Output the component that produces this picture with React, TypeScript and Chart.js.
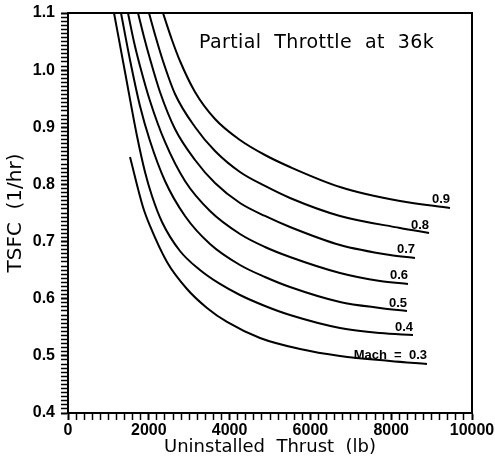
import React, { useEffect, useRef } from "react";
import { Chart, registerables } from "chart.js";

Chart.register(...registerables);

// ---- data ----
const machLabels = ["Mach  =  0.3", "0.4", "0.5", "0.6", "0.7", "0.8", "0.9"];

const thrustM03 = [1535, 1856, 2030, 2450, 2946, 3441, 3936, 4752, 5743, 6733, 7970, 8886];
const tsfcM03 = [0.848, 0.7605, 0.7273, 0.6643, 0.617, 0.5838, 0.5593, 0.5313, 0.512, 0.4998, 0.491, 0.4858];

const thrustM04 = [1139, 1411, 1708, 1906, 2079, 2327, 2772, 3267, 3762, 4257, 4876, 5495, 6733, 7723, 8540];
const tsfcM04 = [1.1, 0.9968, 0.8848, 0.8218, 0.7798, 0.7343, 0.6835, 0.6503, 0.6258, 0.6065, 0.5873, 0.5715, 0.5488, 0.54, 0.5365];

const thrustM05 = [1312, 1535, 1782, 2030, 2401, 2896, 3515, 4257, 4876, 5495, 6733, 7723, 8391];
const tsfcM05 = [1.1, 1.0178, 0.9373, 0.876, 0.806, 0.7448, 0.6958, 0.659, 0.638, 0.6205, 0.5943, 0.5838, 0.5785];

const thrustM06 = [1485, 1634, 1782, 2030, 2401, 2896, 3515, 4257, 4876, 5495, 6733, 7723, 8416];
const tsfcM06 = [1.1, 1.0493, 1.0073, 0.946, 0.8743, 0.806, 0.7535, 0.7133, 0.6905, 0.673, 0.645, 0.631, 0.6258];

const thrustM07 = [1733, 1881, 2030, 2277, 2649, 3144, 3639, 4257, 4876, 5495, 6733, 7970, 8589];
const tsfcM07 = [1.1, 1.058, 1.0195, 0.9618, 0.897, 0.8428, 0.8025, 0.7675, 0.7448, 0.7255, 0.694, 0.6765, 0.6713];

const thrustM08 = [2005, 2178, 2351, 2649, 3144, 3639, 4257, 4876, 5495, 6733, 8218, 8936];
const tsfcM08 = [1.1, 1.0563, 1.016, 0.9583, 0.9005, 0.8585, 0.8218, 0.7973, 0.7763, 0.7448, 0.7238, 0.715];

const thrustM09 = [2351, 2574, 2772, 3144, 3639, 4257, 4876, 5495, 6733, 8218, 9455];
const tsfcM09 = [1.1, 1.0528, 1.016, 0.9618, 0.9145, 0.8778, 0.8515, 0.8305, 0.7955, 0.771, 0.7588];

const seriesX = [thrustM03, thrustM04, thrustM05, thrustM06, thrustM07, thrustM08, thrustM09];
const seriesY = [tsfcM03, tsfcM04, tsfcM05, tsfcM06, tsfcM07, tsfcM08, tsfcM09];

const xMajorTicks = [0, 2000, 4000, 6000, 8000, 10000];
const xMinorPerMajor = 10;
const yMajorTicks = [0.4, 0.5, 0.6, 0.7, 0.8, 0.9, 1.0, 1.1];
const yMinorPerMajor = 14;

const plotTitle = "Partial  Throttle  at  36k";
const xTitle = "Uninstalled  Thrust  (lb)";
const yTitle = "TSFC  (1/hr)";

function withMinors(majors: number[], per: number): number[] {
  const out: number[] = [];
  for (let i = 0; i < majors.length - 1; i++) {
    const a = majors[i];
    const b = majors[i + 1];
    for (let k = 0; k < per; k++) out.push(a + ((b - a) * k) / per);
  }
  out.push(majors[majors.length - 1]);
  return out;
}

function isMajor(v: number, majors: number[]): boolean {
  return majors.some((m) => Math.abs(m - v) < 1e-7 * Math.max(1, Math.abs(m)));
}

const overlayPlugin = {
  id: "overlay",
  afterDatasetsDraw(chart: any) {
    const { ctx, chartArea: a } = chart;
    ctx.save();
    // frame (top and right)
    ctx.strokeStyle = "#000";
    ctx.lineWidth = 2;
    ctx.beginPath();
    ctx.moveTo(a.left, a.top);
    ctx.lineTo(a.right, a.top);
    ctx.lineTo(a.right, a.bottom);
    ctx.stroke();

    // title inside plot
    ctx.fillStyle = "#000";
    ctx.font = '19px "DejaVu Sans"';
    try {
      (ctx as any).letterSpacing = "0.4px";
    } catch (e) {}
    ctx.textAlign = "left";
    ctx.textBaseline = "alphabetic";
    ctx.fillText(plotTitle, a.left + (a.right - a.left) * 0.324, a.top + 35);
    try {
      (ctx as any).letterSpacing = "0px";
    } catch (e) {}

    // curve labels at line ends
    ctx.font = 'bold 13px "Liberation Sans"';
    ctx.textAlign = "right";
    ctx.textBaseline = "alphabetic";
    chart.data.datasets.forEach((ds: any, i: number) => {
      const meta = chart.getDatasetMeta(i);
      const pts = meta.data;
      const last = pts[pts.length - 1];
      if (!last) return;
      ctx.fillText(ds.label, last.x, last.y - 4.5);
    });
    ctx.restore();
  },
};

export default function App() {
  const ref = useRef<HTMLCanvasElement | null>(null);

  useEffect(() => {
    document.body.style.margin = "0";
    const canvas = ref.current;
    if (!canvas) return;

    const datasets = seriesX.map((xs, i) => ({
      label: machLabels[i],
      data: xs.map((x, j) => ({ x, y: seriesY[i][j] })),
      borderColor: "#000",
      borderWidth: 2,
      pointRadius: 0,
      fill: false,
      cubicInterpolationMode: "monotone" as const,
    }));

    const xTickValues = withMinors(xMajorTicks, xMinorPerMajor);
    const yTickValues = withMinors(yMajorTicks, yMinorPerMajor);

    const chart = new Chart(canvas, {
      type: "line",
      data: { datasets },
      options: {
        responsive: false,
        animation: false,
        layout: { padding: { top: 13, right: 23, bottom: 0, left: 0 } },
        plugins: {
          legend: { display: false },
          tooltip: { enabled: false },
          title: { display: false },
        },
        scales: {
          x: {
            type: "linear",
            min: 0,
            max: 10000,
            afterBuildTicks: (scale: any) => {
              scale.ticks = xTickValues.map((v) => ({ value: v }));
            },
            afterFit: (scale: any) => {
              scale.height = 47;
              scale.paddingLeft = 0;
              scale.paddingRight = 0;
            },
            ticks: {
              autoSkip: false,
              maxRotation: 0,
              minRotation: 0,
              padding: 1,
              color: "#000",
              font: { family: "Liberation Sans", size: 16, weight: "bold" },
              callback: (v: any) => (isMajor(Number(v), xMajorTicks) ? String(Math.round(Number(v))) : ""),
            },
            grid: {
              drawOnChartArea: false,
              drawTicks: true,
              tickLength: 7,
              tickColor: "#000",
              tickWidth: (c: any) => (isMajor(c.tick?.value, xMajorTicks) ? 2 : 1.5),
            },
            border: { display: true, color: "#000", width: 2 },
            title: {
              display: true,
              text: xTitle,
              color: "#000",
              font: { family: "DejaVu Sans", size: 18 },
              padding: { top: 0, bottom: 2 },
            },
          },
          y: {
            type: "linear",
            min: 0.4,
            max: 1.1,
            afterBuildTicks: (scale: any) => {
              scale.ticks = yTickValues.map((v) => ({ value: v }));
            },
            afterFit: (scale: any) => {
              scale.width = 68;
              scale.paddingTop = 0;
              scale.paddingBottom = 0;
            },
            ticks: {
              autoSkip: false,
              padding: 6,
              color: "#000",
              font: { family: "Liberation Sans", size: 16, weight: "bold" },
              callback: (v: any) => (isMajor(Number(v), yMajorTicks) ? Number(v).toFixed(1) : ""),
            },
            grid: {
              drawOnChartArea: false,
              drawTicks: true,
              tickLength: 7,
              tickColor: "#000",
              tickWidth: (c: any) => (isMajor(c.tick?.value, yMajorTicks) ? 2 : 1.5),
            },
            border: { display: true, color: "#000", width: 2 },
            title: {
              display: true,
              text: yTitle,
              color: "#000",
              font: { family: "DejaVu Sans", size: 20 },
              padding: { top: 4, bottom: 0 },
            },
          },
        },
      },
      plugins: [overlayPlugin],
    });

    return () => chart.destroy();
  }, []);

  return (
    <canvas
      ref={ref}
      width={495}
      height={460}
      style={{ position: "fixed", left: 0, top: 0, display: "block", width: 495, height: 460 }}
    />
  );
}
